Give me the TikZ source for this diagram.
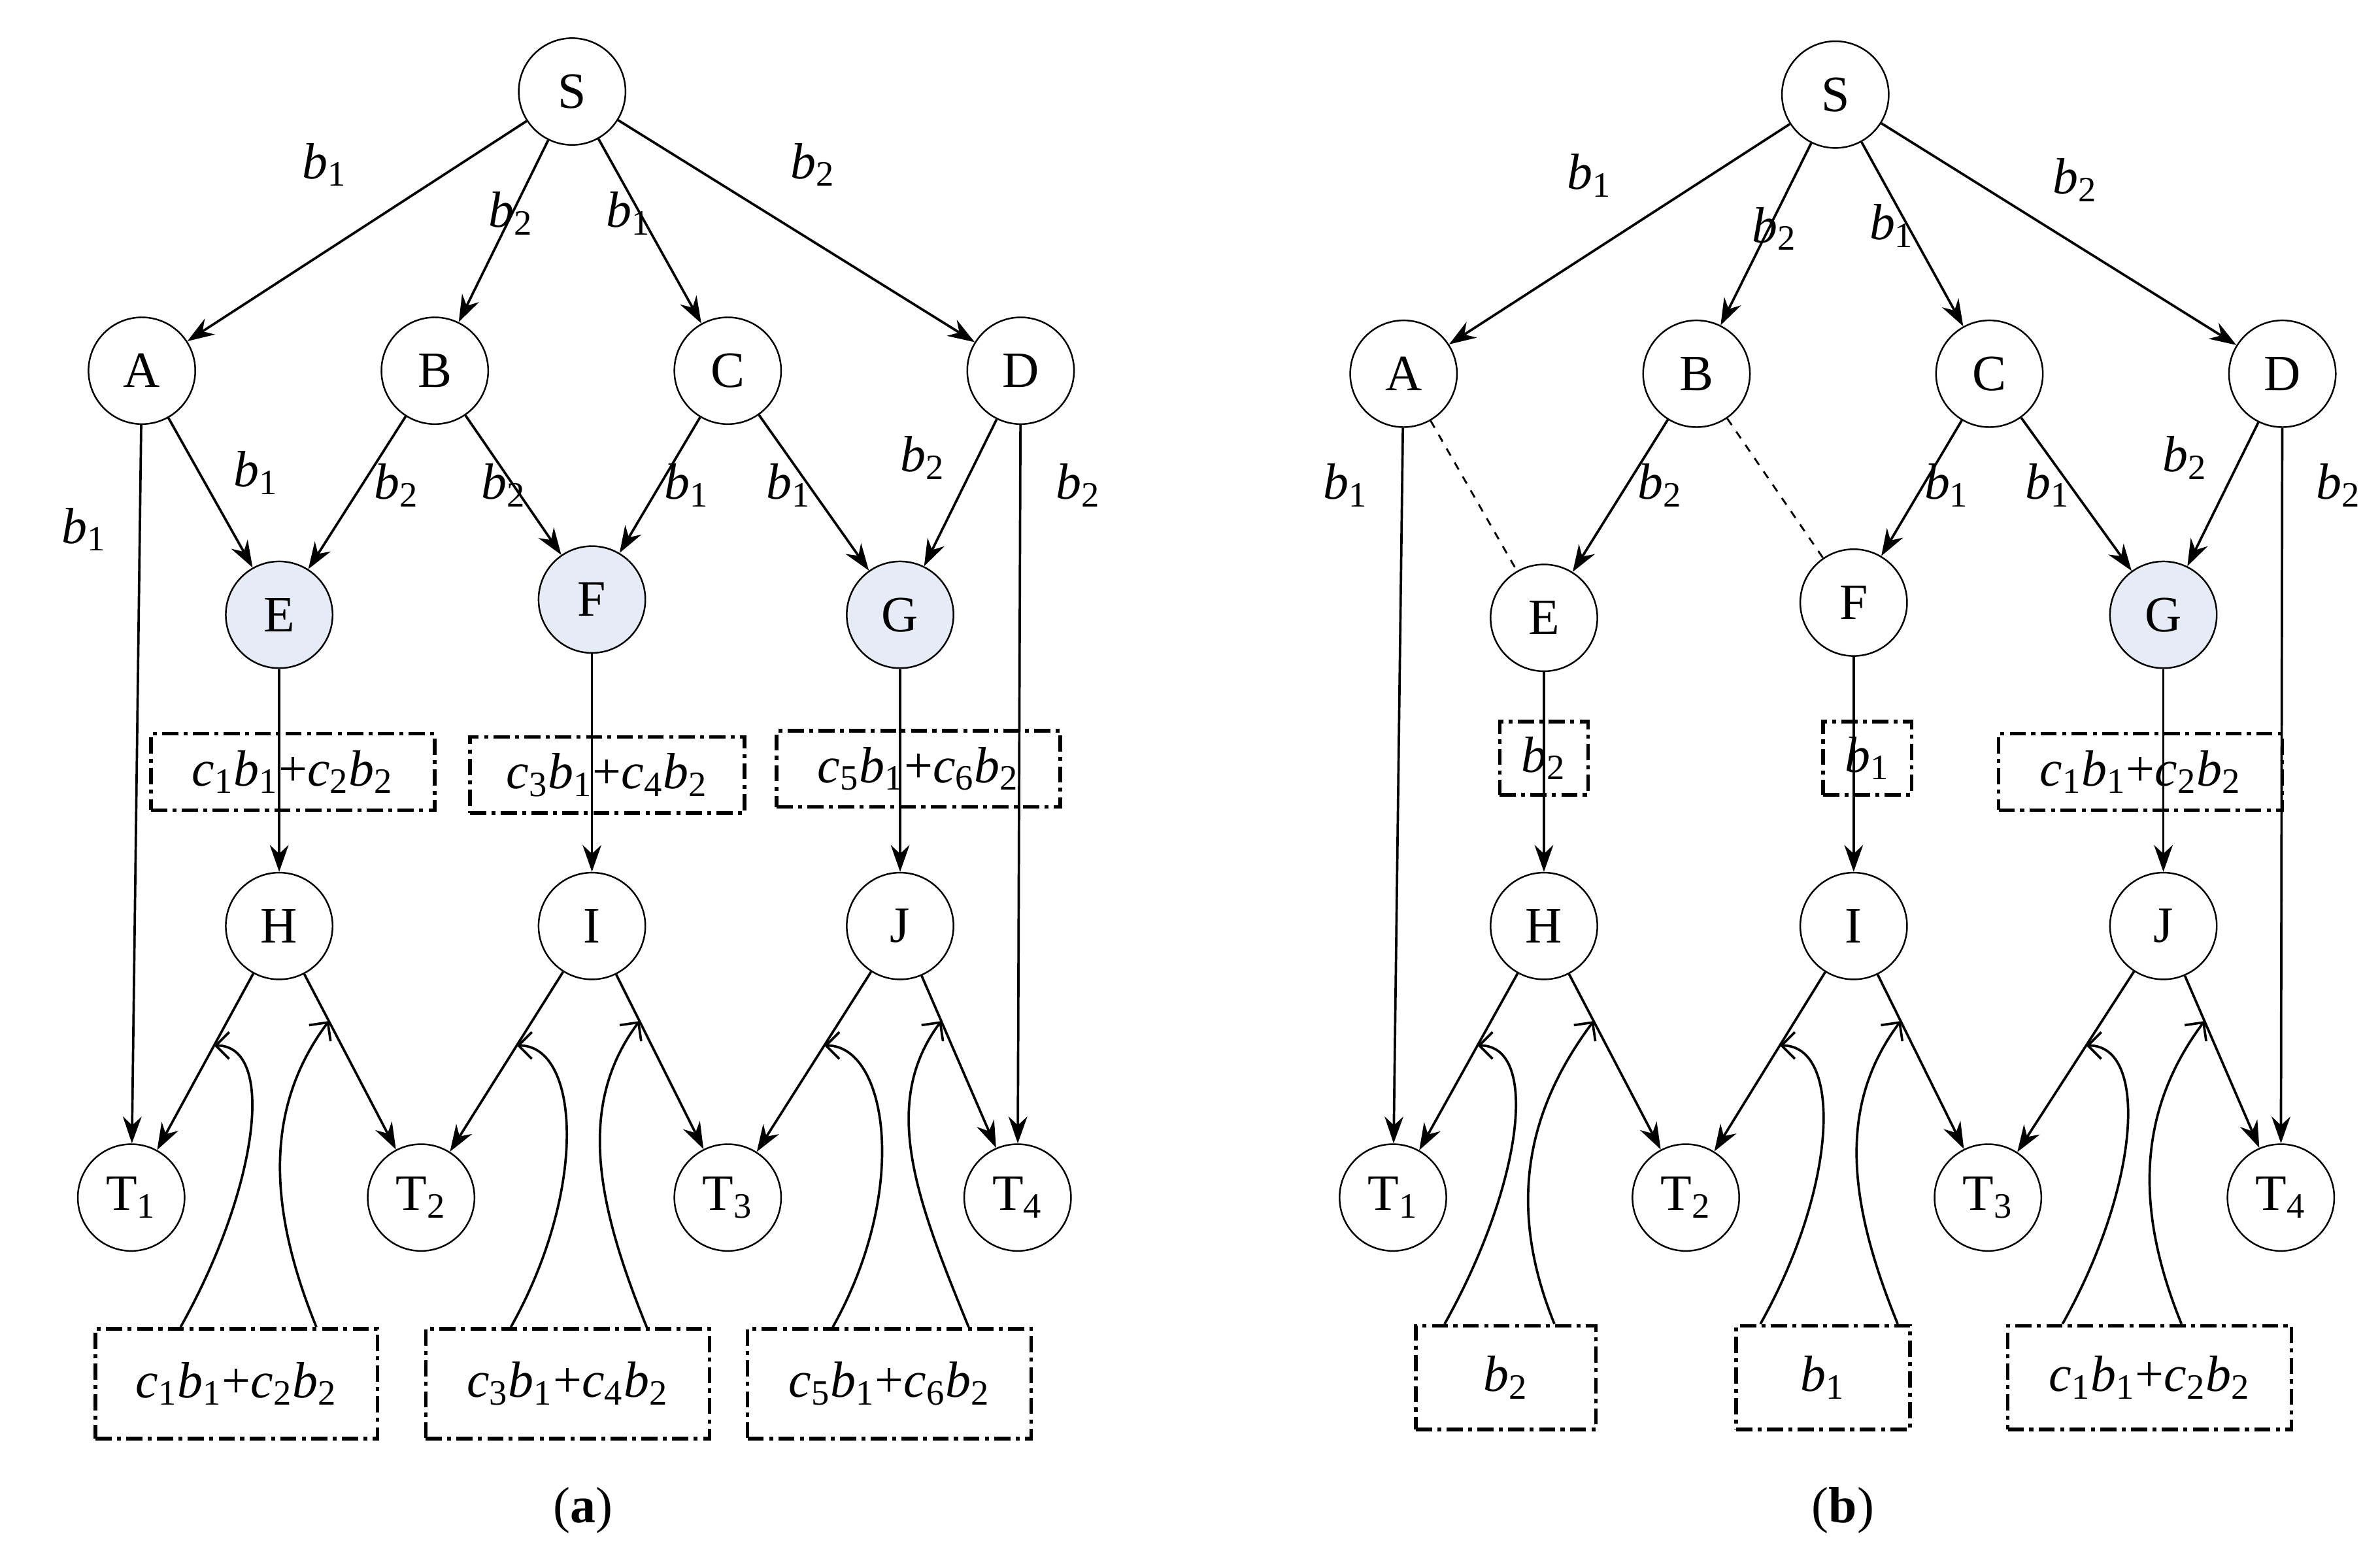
\documentclass[tikz,border=0pt]{standalone}
\usepackage{fontspec}
\setmainfont{Liberation Serif}
\usetikzlibrary{arrows.meta,calc}
\definecolor{lblue}{RGB}{230,236,246}
\newcommand\vb[1]{\textit{b}\textsubscript{#1}}
\newcommand\vc[1]{\textit{c}\textsubscript{#1}}
\newcommand\lin[2]{\vc{#1}\vb{1}+\vc{#2}\vb{2}}
\newcommand\curL[2]{\draw[cu] (#1) .. controls ($(#1)+(51,-91)$) and ($(#2)+(41,0)$) .. (#2);}
\newcommand\curR[2]{\draw[cu] (#1) .. controls ($(#1)+(-33,-81)$) and ($(#2)+(-41,55)$) .. (#2);}
\begin{document}
\begin{tikzpicture}[x=0.02cm,y=-0.02cm,
  every node/.style={font=\fontsize{19}{22}\selectfont},
  nd/.style={circle,draw,line width=0.6pt,minimum size=1.4cm,inner sep=0pt},
  hl/.style={nd,fill=lblue},
  bx/.style={draw,line width=1.3pt,dash pattern=on 6pt off 2pt on 1.5pt off 2pt,minimum height=1cm,inner sep=2pt},
  ar/.style={-{Stealth[length=10pt,width=7pt]},line width=0.9pt},
  cu/.style={-{Straight Barb[length=5pt,width=10pt]},line width=0.9pt},
  dl/.style={dashed,line width=0.7pt}]
\useasboundingbox (0,0) rectangle (1560,1018);
% ---------- panel a
\node[nd] (S) at (375,60) {S};
\node[nd] (A) at (93,243) {A};
\node[nd] (B) at (285,243) {B};
\node[nd] (C) at (477,243) {C};
\node[nd] (D) at (669,243) {D};
\node[hl] (E) at (183,403) {E};
\node[hl] (F) at (388,393) {F};
\node[hl] (G) at (590,403) {G};
\node[nd] (H) at (183,607) {H};
\node[nd] (I) at (388,607) {I};
\node[nd] (J) at (590,607) {J};
\node[nd] (T1) at (86,785) {T\textsubscript{1}};
\node[nd] (T2) at (276,785) {T\textsubscript{2}};
\node[nd] (T3) at (477,785) {T\textsubscript{3}};
\node[nd] (T4) at (667,785) {T\textsubscript{4}};
\node[bx,minimum width=3.72cm] (x1) at (192,506) {\lin{1}{2}};
\node[bx,minimum width=3.6cm] (x2) at (398,508) {\lin{3}{4}};
\node[bx,minimum width=3.72cm] (x3) at (602,504) {\lin{5}{6}};
\node[bx,minimum width=3.7cm,minimum height=1.44cm] (y1) at (155,907) {\lin{1}{2}};
\node[bx,minimum width=3.72cm,minimum height=1.44cm] (y2) at (372,907) {\lin{3}{4}};
\node[bx,minimum width=3.72cm,minimum height=1.44cm] (y3) at (583,907) {\lin{5}{6}};
\foreach \a/\b in {S/A,S/B,S/C,S/D,A/E,B/E,B/F,C/F,C/G,D/G,A/T1,D/T4,E/H,F/I,G/J,H/T1,H/T2,I/T2,I/T3,J/T3,J/T4}
  \draw[ar] (\a) -- (\b);
\node at (213,108) {\vb1}; \node at (335,140) {\vb2}; \node at (412,140) {\vb1}; \node at (533,108) {\vb2};
\node at (168,310) {\vb1}; \node at (260,318) {\vb2}; \node at (330,318) {\vb2}; \node at (450,318) {\vb1};
\node at (517,318) {\vb1}; \node at (605,300) {\vb2}; \node at (707,318) {\vb2}; \node at (55,347) {\vb1};
\foreach \bx/\X/\Tl/\Tr in {y1/H/T1/T2,y2/I/T2/T3,y3/J/T3/T4}{
  \coordinate (s1) at ($(\bx.north west)+(57,0)$);
  \coordinate (s2) at ($(\bx.north west)+(146,0)$);
  \coordinate (e1) at ($(\X)!0.44!(\Tl)$);
  \coordinate (e2) at ($(\X)!0.35!(\Tr)$);
  \curL{s1}{e1} \curR{s2}{e2}
}
\node at (382,990) {(\textbf{a})};
% ---------- panel b
\node[nd] (S') at (1203,62) {S};
\node[nd] (A') at (920,245) {A};
\node[nd] (B') at (1112,245) {B};
\node[nd] (C') at (1304,245) {C};
\node[nd] (D') at (1496,245) {D};
\node[nd] (E') at (1012,405) {E};
\node[nd] (F') at (1215,395) {F};
\node[hl] (G') at (1418,403) {G};
\node[nd] (H') at (1012,607) {H};
\node[nd] (I') at (1215,607) {I};
\node[nd] (J') at (1418,607) {J};
\node[nd] (T1') at (913,785) {T\textsubscript{1}};
\node[nd] (T2') at (1105,785) {T\textsubscript{2}};
\node[nd] (T3') at (1303,785) {T\textsubscript{3}};
\node[nd] (T4') at (1495,785) {T\textsubscript{4}};
\node[bx,minimum width=1.16cm,minimum height=0.96cm] (x1') at (1012,497) {\vb2};
\node[bx,minimum width=1.16cm,minimum height=0.96cm] (x2') at (1224,497) {\vb1};
\node[bx,minimum width=3.72cm] (x3') at (1403,506) {\lin{1}{2}};
\node[bx,minimum width=2.36cm,minimum height=1.36cm] (y1') at (987,903) {\vb2};
\node[bx,minimum width=2.28cm,minimum height=1.36cm] (y2') at (1195,903) {\vb1};
\node[bx,minimum width=3.72cm,minimum height=1.36cm] (y3') at (1409,903) {\lin{1}{2}};
\foreach \a/\b in {S'/A',S'/B',S'/C',S'/D',B'/E',C'/F',C'/G',D'/G',A'/T1',D'/T4',E'/H',F'/I',G'/J',H'/T1',H'/T2',I'/T2',I'/T3',J'/T3',J'/T4'}
  \draw[ar] (\a) -- (\b);
\draw[dl] (A') -- (E'); \draw[dl] (B') -- (F');
\node at (1042,115) {\vb1}; \node at (1163,150) {\vb2}; \node at (1240,148) {\vb1}; \node at (1360,118) {\vb2};
\node at (882,318) {\vb1}; \node at (1088,318) {\vb2}; \node at (1276,318) {\vb1};
\node at (1342,318) {\vb1}; \node at (1432,300) {\vb2}; \node at (1533,318) {\vb2};
\foreach \bx/\X/\Tl/\Tr/\o/\p in {y1'/H'/T1'/T2'/20/92,y2'/I'/T2'/T3'/17/107,y3'/J'/T3'/T4'/37/115}{
  \coordinate (s1) at ($(\bx.north west)+(\o,0)$);
  \coordinate (s2) at ($(\bx.north west)+(\p,0)$);
  \coordinate (e1) at ($(\X)!0.44!(\Tl)$);
  \coordinate (e2) at ($(\X)!0.35!(\Tr)$);
  \curL{s1}{e1} \curR{s2}{e2}
}
\node at (1208,990) {(\textbf{b})};
\end{tikzpicture}
\end{document}
